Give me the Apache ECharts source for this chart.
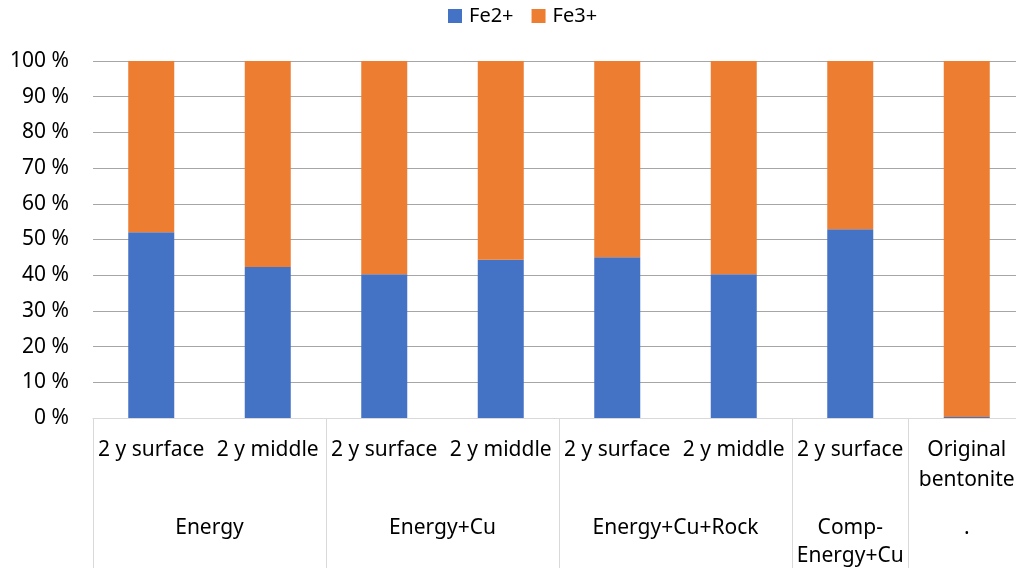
<!DOCTYPE html>
<html>
<head>
<meta charset="utf-8">
<script src="https://cdn.jsdelivr.net/npm/echarts@6/dist/echarts.min.js"></script>
<style>
  html, body { margin: 0; padding: 0; background: #fff; }
  #chart { width: 1016px; height: 568px; }
</style>
</head>
<body>
<div id="chart"></div>
<script>
// samples along the x axis
var categories = ['2 y surface', '2 y middle', '2 y surface', '2 y middle', '2 y surface', '2 y middle', '2 y surface', 'Original\nbentonite']
// group row under the samples
var groups = ['Energy', 'Energy+Cu', 'Energy+Cu+Rock', 'Comp-\nEnergy+Cu', '.']
var groupSizes = [2, 2, 2, 1, 1]
// share of iron, %
var fe2 = [52.0, 42.3, 40.3, 44.3, 45.0, 40.3, 52.9, 0.3]
var fe3 = [48.0, 57.7, 59.7, 55.7, 55.0, 59.7, 47.1, 99.7]

var font = '"Noto Sans", "Liberation Sans", sans-serif'

// second axis runs at half-category steps so group centres and borders land on points
var halfSteps = []
for (var i = 0; i <= categories.length * 2; i++) halfSteps.push(String(i))
var borderIdx = [0]
var labelAt = {}
var acc = 0
groupSizes.forEach(function (n, k) {
  labelAt[(acc * 2 + n)] = groups[k]
  acc += n
  borderIdx.push(acc * 2)
})

var chart = echarts.init(document.getElementById('chart'))
var option = {
  color: ['#4472C4', '#ED7D31'],
  animation: false,
  textStyle: { fontFamily: font },
  legend: {
    top: 6,
    left: 448,
    padding: 0,
    itemWidth: 14,
    itemHeight: 14,
    itemGap: 18,
    icon: 'rect',
    textStyle: { fontSize: 20, color: '#000', fontFamily: font, padding: [0, 0, 0, 2] },
    data: ['Fe2+', 'Fe3+']
  },
  grid: {
    left: 93,
    right: -9,
    top: 61,
    bottom: 150,
    containLabel: false,
    outerBoundsMode: 'none'
  },
  xAxis: [
    {
      type: 'category',
      position: 'bottom',
      data: categories,
      axisLine: { show: true, lineStyle: { color: '#d9d9d9', width: 1 } },
      axisTick: { show: false },
      axisLabel: {
        interval: 0,
        margin: 17,
        fontSize: 21,
        lineHeight: 30,
        color: '#000',
        fontFamily: font
      }
    },
    {
      type: 'category',
      position: 'bottom',
      boundaryGap: false,
      data: halfSteps,
      axisLine: { show: false },
      axisTick: {
        show: true,
        length: 150,
        interval: function (idx) { return borderIdx.indexOf(idx) >= 0 },
        lineStyle: { color: '#d9d9d9', width: 1 }
      },
      axisLabel: {
        interval: function (idx) { return labelAt[idx] !== undefined },
        formatter: function (v) { return labelAt[+v] || '' },
        margin: 96,
        fontSize: 21,
        lineHeight: 28,
        color: '#000',
        fontFamily: font
      }
    }
  ],
  yAxis: {
    type: 'value',
    min: 0,
    max: 100,
    interval: 10,
    axisLine: { show: false },
    axisTick: { show: false },
    splitLine: { lineStyle: { color: '#a6a6a6', width: 1 } },
    axisLabel: {
      formatter: '{value} %',
      margin: 24,
      fontSize: 21,
      color: '#000',
      fontFamily: font
    }
  },
  series: [
    {
      name: 'Fe2+',
      type: 'bar',
      stack: 'fe',
      barWidth: 46,
      xAxisIndex: 0,
      data: fe2
    },
    {
      name: 'Fe3+',
      type: 'bar',
      stack: 'fe',
      barWidth: 46,
      xAxisIndex: 0,
      data: fe3
    }
  ]
}
chart.setOption(option)
</script>
</body>
</html>
